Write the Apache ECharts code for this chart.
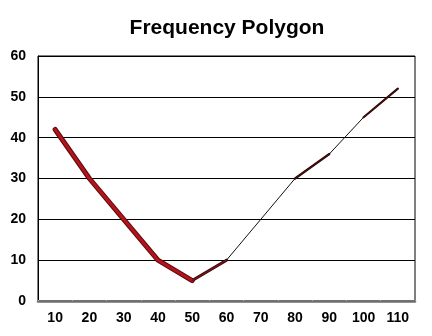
<!DOCTYPE html>
<html>
<head>
<meta charset="utf-8">
<script src="https://cdn.jsdelivr.net/npm/echarts@6/dist/echarts.min.js"></script>
<style>
  html, body { margin: 0; padding: 0; background: #fff; }
  #chart { width: 432px; height: 336px; }
</style>
</head>
<body>
<div id="chart"></div>
<script>
// Class midpoints and their frequencies
const categories = ['10', '20', '30', '40', '50', '60', '70', '80', '90', '100', '110'];
const frequencies = [42, 30, 20, 10, 5, 10, 20, 30, 36, 45, 52];
const yTicks = [0, 10, 20, 30, 40, 50, 60];

// Ribbon segments: [startIndex, endIndex], with the stroke used for each
const segments = [[0, 4], [4, 5], [5, 7], [7, 8], [8, 9], [9, 10]];
const segmentStyles = [
  { under: '#5c0a0e', underWidth: 5, color: '#b3141c', width: 3 },
  { under: '#3a0808', underWidth: 3, color: '#6e1418', width: 1.5 },
  { color: '#111', width: 1 },
  { under: '#2a0606', underWidth: 2.2, color: '#4a1010', width: 1 },
  { color: '#111', width: 1 },
  { under: '#2a0606', underWidth: 2.2, color: '#4a1010', width: 1 }
];

function segmentData(range) {
  return frequencies.map((v, i) => (i >= range[0] && i <= range[1]) ? v : null);
}

const series = [];
segments.forEach((range, k) => {
  const st = segmentStyles[k];
  if (st.under) {
    series.push({
      type: 'line', data: segmentData(range), showSymbol: false, symbol: 'none',
      connectNulls: false, z: 3, silent: true,
      lineStyle: { color: st.under, width: st.underWidth, cap: 'round', join: 'round' }
    });
  }
  series.push({
    type: 'line', data: segmentData(range), showSymbol: false, symbol: 'none',
    connectNulls: false, z: 4, silent: true,
    lineStyle: { color: st.color, width: st.width, cap: 'round', join: 'round' }
  });
});

const font = 'Arial, "Liberation Sans", sans-serif';
const chart = echarts.init(document.getElementById('chart'), null, { renderer: 'canvas' });
chart.setOption({
  animation: false,
  backgroundColor: '#ffffff',
  title: {
    text: 'Frequency Polygon',
    left: 222,
    textAlign: 'center',
    top: 13,
    textStyle: { fontFamily: font, fontSize: 21, fontWeight: 'bold', color: '#000' }
  },
  grid: {
    left: 38, right: 17, top: 56, bottom: 35,
    show: true, borderColor: '#000', borderWidth: 1, backgroundColor: 'transparent'
  },
  xAxis: {
    type: 'category',
    data: categories,
    boundaryGap: true,
    offset: 1.5,
    axisLine: { show: true, lineStyle: { color: '#6e6e6e', width: 2.5 } },
    axisTick: { show: true, inside: true, length: 1, lineStyle: { color: '#aaa' } },
    axisLabel: { margin: 9, fontFamily: font, fontSize: 14, fontWeight: 'bold', color: '#000' },
    splitLine: { show: false }
  },
  yAxis: {
    type: 'value',
    min: yTicks[0],
    max: yTicks[yTicks.length - 1],
    interval: 10,
    axisLine: { show: true, lineStyle: { color: '#000', width: 1 } },
    axisTick: { show: false },
    axisLabel: { margin: 12, fontFamily: font, fontSize: 14, fontWeight: 'bold', color: '#000' },
    splitLine: { show: true, lineStyle: { color: '#000', width: 1 } }
  },
  series: series
});
</script>
</body>
</html>
